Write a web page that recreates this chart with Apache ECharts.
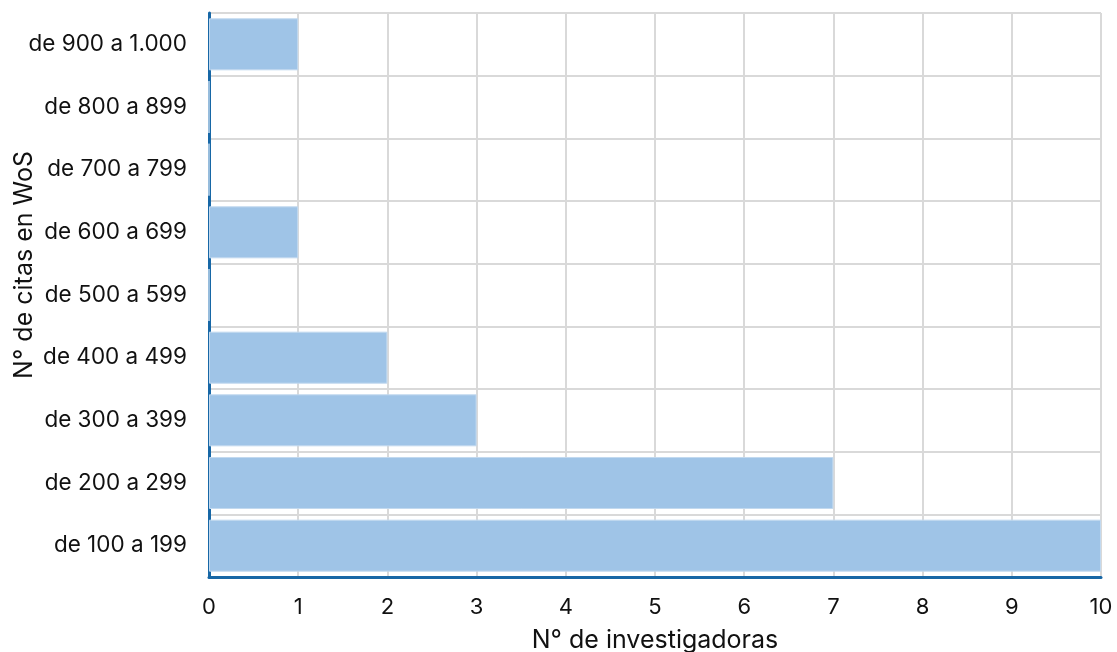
<!DOCTYPE html>
<html>
<head>
<meta charset="utf-8">
<script src="https://cdn.jsdelivr.net/npm/echarts@6/dist/echarts.min.js"></script>
<style>
  html, body { margin: 0; padding: 0; background: #fff; }
  #chart { width: 1117px; height: 652px; }
</style>
</head>
<body>
<div id="chart"></div>
<script>
// rangos de citas (de abajo hacia arriba)
const categories = ['de 100 a 199', 'de 200 a 299', 'de 300 a 399', 'de 400 a 499', 'de 500 a 599',
  'de 600 a 699', 'de 700 a 799', 'de 800 a 899', 'de 900 a 1.000'];
// nº de investigadoras
const values = [10, 7, 3, 2, 0, 1, 0, 0, 1];

const myChart = echarts.init(document.getElementById('chart'));

const font = 'Inter, "Noto Sans", sans-serif';

const options = {
  animation: false,
  textStyle: { fontFamily: font, color: '#111' },
  grid: {
    left: 209,
    right: 16,
    top: 13,
    bottom: 75,
    outerBoundsMode: 'none',
    containLabel: false
  },
  xAxis: {
    type: 'value',
    min: 0,
    max: 10,
    interval: 1,
    name: 'N° de investigadoras',
    nameLocation: 'middle',
    nameGap: 51,
    nameMoveOverlap: false,
    nameTextStyle: { fontSize: 25, color: '#111', fontFamily: font },
    axisLine: { show: true, lineStyle: { color: '#1767a6', width: 3 } },
    axisTick: { show: false },
    axisLabel: { fontSize: 22, color: '#111', margin: 19, fontFamily: font },
    splitLine: { show: true, lineStyle: { color: '#d9d9d9', width: 2 } }
  },
  yAxis: {
    type: 'category',
    data: categories,
    name: 'N° de citas en WoS',
    nameLocation: 'middle',
    nameGap: 172,
    nameMoveOverlap: false,
    nameTextStyle: { fontSize: 25, color: '#111', fontFamily: font, padding: [0, 0, 0, 60] },
    axisLine: { show: true, lineStyle: { color: '#1767a6', width: 3 } },
    axisTick: { show: false },
    axisLabel: { fontSize: 22.5, color: '#111', margin: 22, fontFamily: font },
    splitLine: { show: true, lineStyle: { color: '#d9d9d9', width: 2 } }
  },
  series: [
    {
      type: 'bar',
      data: values,
      barCategoryGap: '17%',
      itemStyle: {
        color: '#9fc4e7',
        borderColor: '#c2d9ef',
        borderWidth: 1
      }
    }
  ]
};

myChart.setOption(options);
</script>
</body>
</html>
